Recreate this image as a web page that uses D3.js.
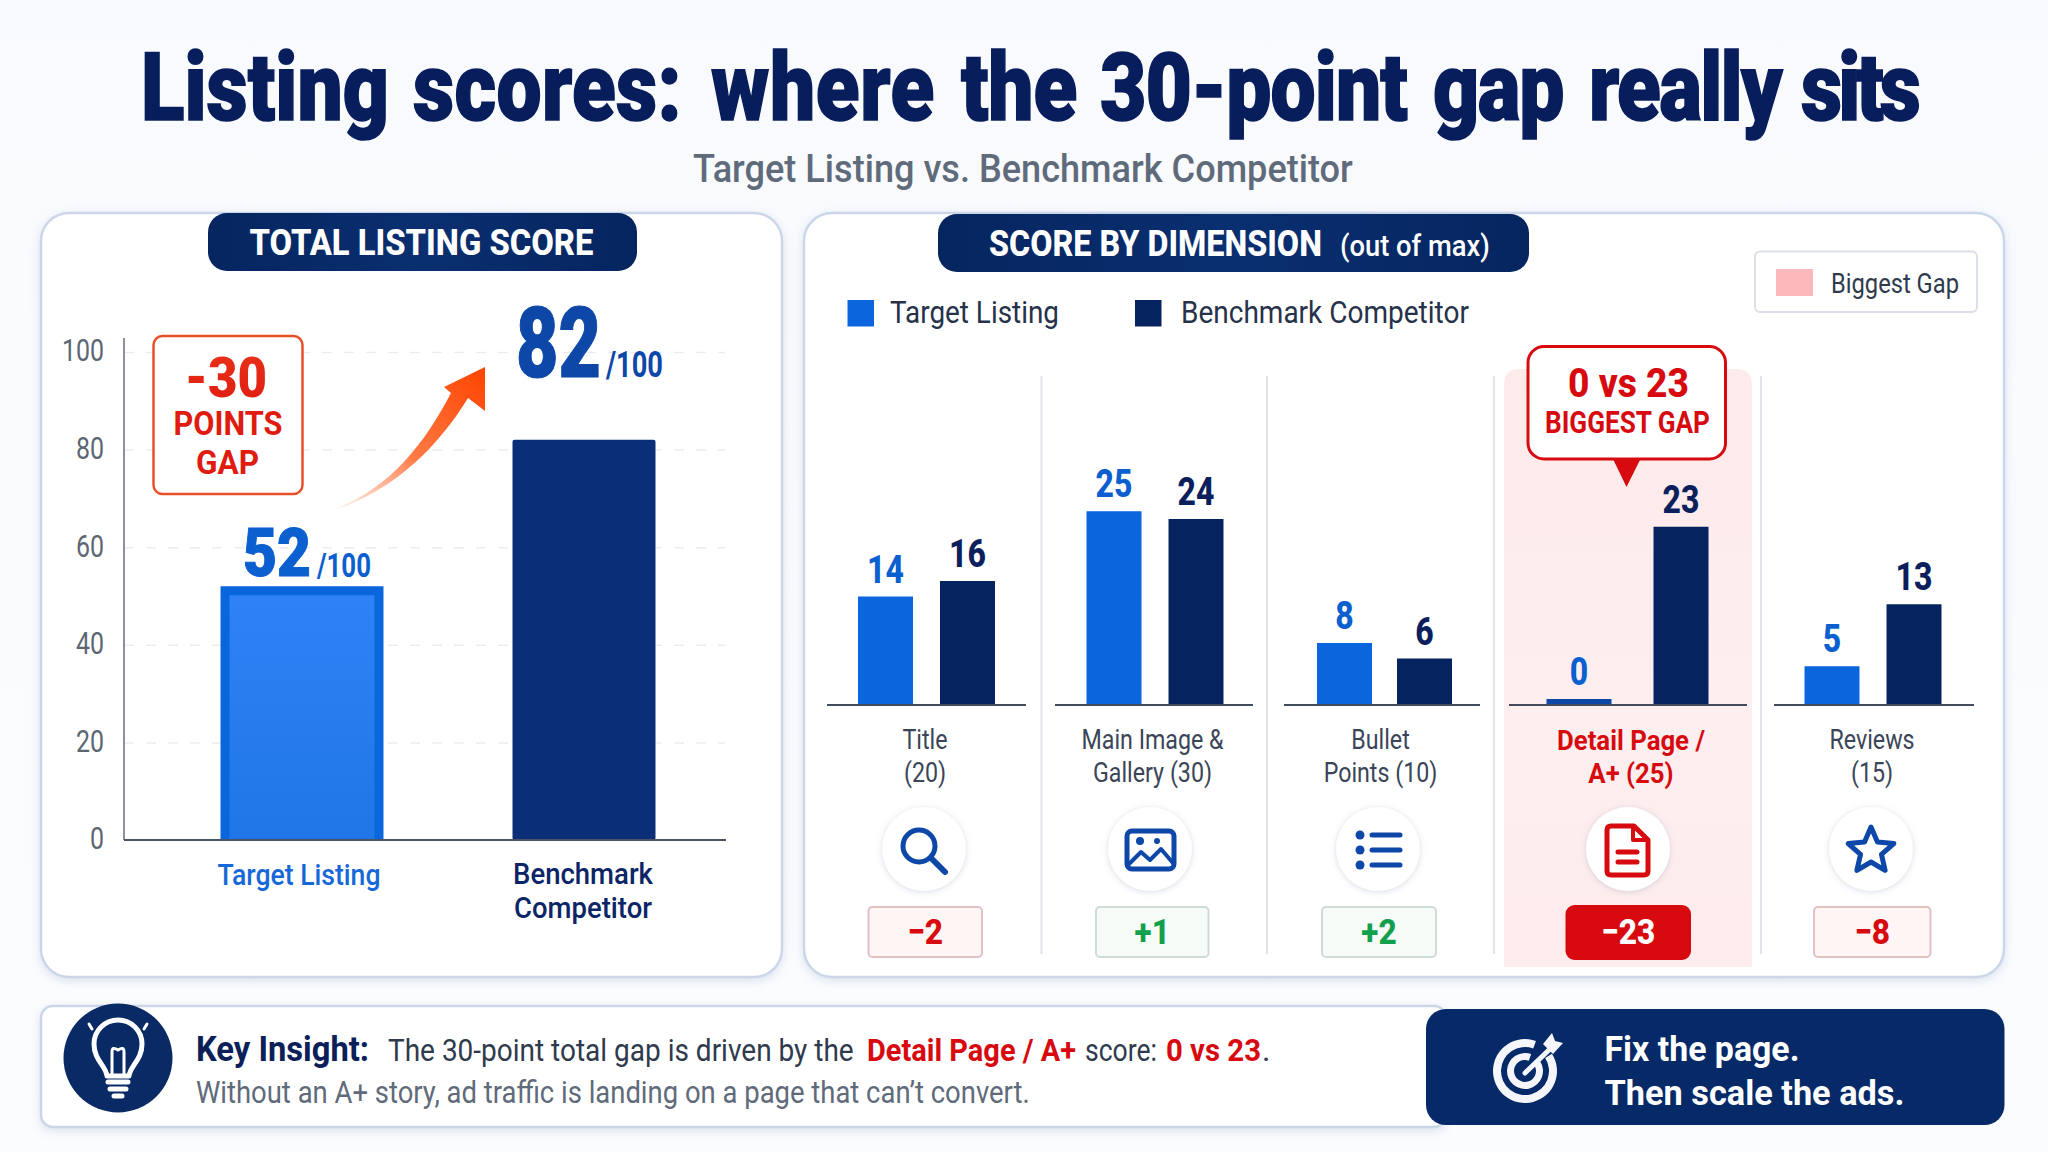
<!DOCTYPE html>
<html>
<head>
<meta charset="utf-8">
<script src="https://cdnjs.cloudflare.com/ajax/libs/d3/7.9.0/d3.min.js"></script>
<style>
  html, body { margin: 0; padding: 0; background: #f9fbfd; }
  svg { display: block; }
  text { font-family: Roboto, "Liberation Sans", sans-serif; }
</style>
</head>
<body>
<svg id="chart" width="2048" height="1152"></svg>
<script>
// Overall scores
const totalNames = ["Target Listing", "Benchmark Competitor"];
const totalScores = [52, 82];
const totalTicks = [0, 20, 40, 60, 80, 100];

// Scores per dimension
const dimensions = ["Title", "Main Image & Gallery", "Bullet Points", "Detail Page / A+", "Reviews"];
const dimensionLines = [["Title", "(20)"], ["Main Image &", "Gallery (30)"], ["Bullet", "Points (10)"], ["Detail Page /", "A+ (25)"], ["Reviews", "(15)"]];
const targetScores = [14, 25, 8, 0, 5];
const benchmarkScores = [16, 24, 6, 23, 13];
const seriesNames = ["Target Listing", "Benchmark Competitor"];
const highlighted = "Detail Page / A+";

const NAVY = "#062a68", DEEP = "#05245f", INK = "#0b2058", BLUE = "#0b66de", ICON = "#0d47a8",
      RED = "#d60a0f", GREEN = "#12a04e", GREY = "#5f6b7a", BODY = "#2f3a4d", BORDER = "#cbd7e9";

const svg = d3.select("#chart");
const defs = svg.append("defs");

function shadow(id, dy, blur, color, opacity) {
  defs.append("filter").attr("id", id).attr("x", "-20%").attr("y", "-20%").attr("width", "140%").attr("height", "140%")
    .append("feDropShadow").attr("dx", 0).attr("dy", dy).attr("stdDeviation", blur)
    .attr("flood-color", color).attr("flood-opacity", opacity);
}
shadow("panelShadow", 3, 5, "#9fb3d1", 0.35);
shadow("iconShadow", 1, 3, "#8c9ab5", 0.35);

function linear(id, x1, y1, x2, y2, stops, units) {
  const g = defs.append("linearGradient").attr("id", id)
    .attr("x1", x1).attr("y1", y1).attr("x2", x2).attr("y2", y2);
  if (units) g.attr("gradientUnits", units);
  stops.forEach(([o, c, a]) => g.append("stop").attr("offset", o).attr("stop-color", c).attr("stop-opacity", a ?? 1));
}
linear("pageBg", 0, 0, 0, 1, [[0, "#f8fafd"], [1, "#fbfcfe"]]);
linear("targetFill", 0, 0, 0, 1, [[0, "#2f82f6"], [1, "#2076e6"]]);
linear("pillFill", 0, 0, 1, 0, [[0, "#05255f"], [0.5, "#0a2f70"], [1, "#05255f"]]);
linear("bandFill", 0, 0, 0, 1, [[0, "#fdeaeb"], [0.6, "#fdeeef"], [1, "#feecec"]]);
linear("arrowFill", "334", "510", "485", "367", [[0, "#ffb79c", 0.25], [0.45, "#ff7a45"], [1, "#ff4300"]], "userSpaceOnUse");
linear("gapFill", 0, 0, 0, 1, [[0, "#e8331a"], [1, "#e01b10"]]);

// Places a text and narrows it horizontally to the given width or ratio of its natural width.
function label(parent, s, o) {
  const t = parent.append("text").text(s)
    .attr("font-size", o.size).attr("font-weight", o.weight || 400)
    .attr("fill", o.fill || BODY).attr("text-anchor", o.anchor || "start");
  const natural = t.node().getComputedTextLength();
  const k = o.width ? o.width / natural : (o.squeeze || 1);
  t.attr("transform", `translate(${o.x},${o.y}) scale(${k},1)`);
  if (o.heavy) t.attr("stroke", o.fill).attr("stroke-width", o.heavy);
  return t;
}

svg.append("rect").attr("width", 2048).attr("height", 1152).attr("fill", "url(#pageBg)");

// Heading, one text with each word fitted to its own span
const headingWords = ["Listing", "scores:", "where", "the", "30-point", "gap", "really", "sits"];
const headingLeft = d3.scaleOrdinal().domain(headingWords).range([141, 413, 711, 961, 1100, 1433, 1589, 1801]);
const headingRight = d3.scaleOrdinal().domain(headingWords).range([389, 682, 935, 1077, 1407, 1563, 1781, 1917]);
const heading = svg.append("text").attr("font-size", 94).attr("font-weight", 900)
  .attr("fill", "#071d5c").attr("stroke", "#071d5c").attr("stroke-width", 1.6);
const wordWidths = headingWords.map(w => {
  const probe = heading.append("tspan").text(w);
  const len = probe.node().getComputedTextLength();
  probe.remove();
  return len;
});
const headingK = d3.sum(headingWords, w => headingRight(w) - headingLeft(w)) / d3.sum(wordWidths) * 1.02;
heading.attr("transform", `translate(0,120) scale(${headingK},1)`);
headingWords.forEach((w, i) => {
  const room = (headingRight(w) - headingLeft(w)) / headingK;
  heading.append("tspan").attr("x", headingLeft(w) / headingK)
    .attr("letter-spacing", (room - wordWidths[i]) / w.length)
    .text(i < headingWords.length - 1 ? w + " " : w);
});
label(svg, "Target Listing vs. Benchmark Competitor", { x: 693, y: 182, size: 38, weight: 500, fill: GREY, width: 660 });

function panel(x, y, w, h) {
  svg.append("rect").attr("x", x).attr("y", y).attr("width", w).attr("height", h).attr("rx", 28)
    .attr("fill", "#fff").attr("stroke", BORDER).attr("stroke-width", 2.5).attr("filter", "url(#panelShadow)");
}
function pill(x, y, w, h) {
  svg.append("rect").attr("x", x).attr("y", y).attr("width", w).attr("height", h).attr("rx", 19).attr("fill", "url(#pillFill)");
}

/* ---------- Total score panel ---------- */
panel(41, 213, 741, 764);
pill(208, 213, 429, 58);
label(svg, "TOTAL LISTING SCORE", { x: 249.5, y: 255, size: 36, weight: 800, fill: "#fff", width: 344 });

const yTotal = d3.scaleLinear().domain([0, 100]).range([840, 352]);
const xTotal = d3.scaleOrdinal().domain(totalNames).range([302, 584]);
const wTotal = d3.scaleOrdinal().domain(totalNames).range([163, 143]);

svg.append("g").attr("transform", "translate(124,0)")
  .call(d3.axisLeft(yTotal).tickValues(totalTicks.slice(1)).tickSize(-601).tickFormat(""))
  .call(g => g.select(".domain").remove())
  .call(g => g.selectAll("line").attr("stroke", "#e9edf2").attr("stroke-width", 1.5).attr("stroke-dasharray", "10 12"));

const tickSqueeze = 0.78;
const yAxis = svg.append("g").attr("transform", "translate(124,0)")
  .call(d3.axisLeft(yTotal).tickValues(totalTicks).tickSize(0).tickPadding(20))
  .call(g => g.select(".domain").remove());
yAxis.selectAll("text")
  .attr("font-size", 32).attr("fill", "#5d6673").attr("dy", "0.28em")
  .style("font-family", "Roboto, sans-serif")
  .attr("x", -20 / tickSqueeze)
  .attr("transform", `scale(${tickSqueeze},1)`);
svg.append("line").attr("x1", 124).attr("x2", 124).attr("y1", 338).attr("y2", 840).attr("stroke", "#8a93a0").attr("stroke-width", 2);

totalNames.forEach((name, i) => {
  const v = totalScores[i], w = wTotal(name), x = xTotal(name) - w / 2, top = yTotal(v), h = yTotal(0) - top;
  if (i === 0) {
    svg.append("rect").attr("x", x).attr("y", top).attr("width", w).attr("height", h).attr("fill", "#0a66dc");
    svg.append("rect").attr("x", x + 9).attr("y", top + 9).attr("width", w - 18).attr("height", h - 9).attr("fill", "url(#targetFill)");
  } else {
    svg.append("rect").attr("x", x).attr("y", top).attr("width", w).attr("height", h).attr("rx", 2).attr("fill", "#0a2f78");
  }
});
svg.append("line").attr("x1", 124).attr("x2", 726).attr("y1", 840).attr("y2", 840).attr("stroke", "#4a5363").attr("stroke-width", 2);

// Value read-outs above the two bars
label(svg, totalScores[0], { x: 243, y: yTotal(totalScores[0]) - 10, size: 67, weight: 900, fill: "#0b5fcf", width: 68, heavy: 1 });
label(svg, "/100", { x: 317, y: yTotal(totalScores[0]) - 9, size: 34, weight: 700, fill: "#0b5fcf", width: 54 });
label(svg, totalScores[1], { x: 516, y: yTotal(totalScores[1]) - 63, size: 99, weight: 900, fill: ICON, width: 85, heavy: 1.2 });
label(svg, "/100", { x: 606, y: yTotal(totalScores[1]) - 63, size: 36, weight: 700, fill: ICON, width: 57 });

label(svg, "Target Listing", { x: 299, y: 885, size: 30, weight: 500, fill: "#1668d8", anchor: "middle", width: 163 });
label(svg, "Benchmark", { x: 583, y: 884, size: 30, weight: 500, fill: "#0b2566", anchor: "middle", width: 140 });
label(svg, "Competitor", { x: 583, y: 918, size: 30, weight: 500, fill: "#0b2566", anchor: "middle", width: 138 });

// Gap call-out and rising arrow
svg.append("rect").attr("x", 153.5).attr("y", 336).attr("width", 149).attr("height", 158).attr("rx", 9)
  .attr("fill", "#fff").attr("stroke", "#e8502a").attr("stroke-width", 2.5);
label(svg, "-30", { x: 226, y: 396.5, size: 55, weight: 900, fill: "url(#gapFill)", anchor: "middle", width: 82 });
label(svg, "POINTS", { x: 228, y: 434.5, size: 34, weight: 700, fill: "#e01b10", anchor: "middle", width: 109 });
label(svg, "GAP", { x: 227.5, y: 474, size: 34, weight: 700, fill: "#e01b10", anchor: "middle", width: 63 });
svg.append("path")
  .attr("d", "M334,510 C392,486 424,444 451,393 L444,387 L485,367 L485,411 L468,398 C440,444 396,490 334,510 Z")
  .attr("fill", "url(#arrowFill)");

/* ---------- Dimension panel ---------- */
panel(804, 213, 1200, 764);
pill(938, 214, 591, 58);
label(svg, "SCORE BY DIMENSION", { x: 989, y: 256, size: 36, weight: 800, fill: "#fff", width: 333 });
label(svg, "(out of max)", { x: 1340, y: 256, size: 30, weight: 500, fill: "#fff", width: 150 });

// Series legend
const legendX = d3.scaleOrdinal().domain(seriesNames).range([847.5, 1135]);
const legendColor = d3.scaleOrdinal().domain(seriesNames).range([BLUE, DEEP]);
const legendWidth = d3.scaleOrdinal().domain(seriesNames).range([169, 288]);
seriesNames.forEach(n => {
  svg.append("rect").attr("x", legendX(n)).attr("y", 300).attr("width", 26.5).attr("height", 26.5).attr("fill", legendColor(n));
  label(svg, n, { x: legendX(n) + (n === seriesNames[0] ? 42.5 : 46), y: 323, size: 31, fill: "#26324a", width: legendWidth(n) });
});

// Highlight legend
svg.append("rect").attr("x", 1755).attr("y", 251.5).attr("width", 222).attr("height", 60.5).attr("rx", 5)
  .attr("fill", "#fff").attr("stroke", "#dbe0e8").attr("stroke-width", 2);
svg.append("rect").attr("x", 1776).attr("y", 269).attr("width", 37).attr("height", 27).attr("fill", "#fdb8bb");
label(svg, "Biggest Gap", { x: 1831, y: 293, size: 27, fill: "#2f3a4d", width: 128 });

const BAR_W = 55;
const xGroup = d3.scaleOrdinal().domain(dimensions).range([926.5, 1155, 1384.5, 1630, 1873]);
const pairSpread = d3.scaleOrdinal().domain(dimensions).range([41, 41, 40, 51, 41]);
const xSeries = d => d3.scalePoint().domain(seriesNames).range([-pairSpread(d), pairSpread(d)]);
const yDim = d3.scaleLinear().domain([0, 30]).range([705, 472.5]);
const baseLeft = d3.scaleOrdinal().domain(dimensions).range([827, 1055, 1284, 1509, 1774]);
const baseRight = d3.scaleOrdinal().domain(dimensions).range([1026, 1253, 1480, 1747, 1974]);
const labelX = d3.scaleOrdinal().domain(dimensions).range([925, 1152.5, 1380.5, 1631, 1872]);
const iconX = d3.scaleOrdinal().domain(dimensions).range([924, 1150, 1378, 1628, 1871]);
const badgeBox = d3.scaleOrdinal().domain(dimensions).range([[868.5, 113.5], [1096, 112.5], [1322, 114], [1566.5, 123.5], [1814, 116.5]]);

// Tinted band behind the weakest dimension
svg.append("path").attr("d", "M1504,967 V385 Q1504,369 1520,369 H1736 Q1752,369 1752,385 V967 Z").attr("fill", "url(#bandFill)");

// Column separators
[1041.5, 1267, 1494, 1761].forEach(x => {
  svg.append("line").attr("x1", x).attr("x2", x).attr("y1", 376).attr("y2", 954).attr("stroke", "#e0e4ea").attr("stroke-width", 2);
});

const rows = dimensions.map((d, i) => ({ d, lines: dimensionLines[i], t: targetScores[i], b: benchmarkScores[i] }));
const fmtDelta = d3.format("+d");

function drawIcon(g, name, cx, cy) {
  const col = name === highlighted ? RED : ICON;
  const s = g.append("g").attr("transform", `translate(${cx},${cy})`).attr("fill", "none")
    .attr("stroke", col).attr("stroke-width", 5).attr("stroke-linecap", "round").attr("stroke-linejoin", "round");
  if (name === "Title") {
    s.append("circle").attr("cx", -5).attr("cy", -4).attr("r", 16);
    s.append("line").attr("x1", 7).attr("y1", 8).attr("x2", 21).attr("y2", 22).attr("stroke-width", 6);
  } else if (name === "Main Image & Gallery") {
    s.append("rect").attr("x", -23).attr("y", -19).attr("width", 47).attr("height", 38).attr("rx", 5);
    s.append("path").attr("d", "M-21,14 L-9,2 L0,10 L11,-1 L23,13").attr("stroke-width", 4);
    s.append("circle").attr("cx", -10).attr("cy", -9).attr("r", 4).attr("fill", col).attr("stroke", "none");
    s.append("circle").attr("cx", 7).attr("cy", -9).attr("r", 3).attr("fill", col).attr("stroke", "none");
  } else if (name === "Bullet Points") {
    [-15, 0, 15].forEach(dy => {
      s.append("circle").attr("cx", -18).attr("cy", dy).attr("r", 4.5).attr("fill", col).attr("stroke", "none");
      s.append("line").attr("x1", -6).attr("x2", 22).attr("y1", dy).attr("y2", dy);
    });
  } else if (name === "Detail Page / A+") {
    s.append("path").attr("d", "M-17,-24 H6 L20,-10 V21 Q20,25 16,25 H-17 Q-21,25 -21,21 V-20 Q-21,-24 -17,-24 Z");
    s.append("path").attr("d", "M5,-24 V-10 H20").attr("stroke-width", 4);
    s.append("line").attr("x1", -10).attr("x2", 9).attr("y1", 2).attr("y2", 2);
    s.append("line").attr("x1", -10).attr("x2", 9).attr("y1", 12).attr("y2", 12);
  } else {
    const pts = d3.range(10).map(k => {
      const r = k % 2 ? 11 : 24, a = -Math.PI / 2 + k * Math.PI / 5;
      return [r * Math.cos(a), r * Math.sin(a) + 1];
    });
    s.append("path").attr("d", d3.line()(pts) + "Z");
  }
}

rows.forEach(r => {
  const hi = r.d === highlighted, cx = xGroup(r.d), xs = xSeries(r.d);
  // Bars, a zero score keeps a short stub on the axis
  [[seriesNames[0], r.t, BLUE], [seriesNames[1], r.b, DEEP]].forEach(([s, v, col]) => {
    const mid = cx + xs(s);
    if (v === 0) {
      svg.append("rect").attr("x", mid - 32.5).attr("y", yDim(0) - 6).attr("width", 65).attr("height", 6).attr("fill", ICON);
    } else {
      svg.append("rect").attr("x", mid - BAR_W / 2).attr("y", yDim(v)).attr("width", BAR_W).attr("height", yDim(0) - yDim(v)).attr("fill", col);
    }
    label(svg, v, {
      x: mid, y: (v === 0 ? yDim(0) - 20 : yDim(v) - 14), size: 39, weight: 800,
      fill: s === seriesNames[0] ? "#0b5fcf" : "#0a1f5c", anchor: "middle", squeeze: 0.82
    });
  });
  svg.append("line").attr("x1", baseLeft(r.d)).attr("x2", baseRight(r.d)).attr("y1", 705).attr("y2", 705)
    .attr("stroke", "#414b5c").attr("stroke-width", 2);

  // Category name and maximum
  r.lines.forEach((ln, i) => {
    label(svg, ln, {
      x: labelX(r.d), y: (hi ? 749.5 : 748.5) + i * (hi ? 33.5 : 33), size: 28, weight: hi ? 700 : 400,
      fill: hi ? RED : "#3a4557", anchor: "middle", squeeze: hi ? 0.92 : 0.83
    });
  });

  // Icon disc
  svg.append("circle").attr("cx", iconX(r.d)).attr("cy", 849).attr("r", 42).attr("fill", "#fff").attr("filter", "url(#iconShadow)");
  drawIcon(svg, r.d, iconX(r.d), 850);

  // Difference badge
  const delta = r.t - r.b, [bx, bw] = badgeBox(r.d);
  svg.append("rect").attr("x", bx).attr("y", hi ? 906 : 907).attr("width", bw).attr("height", hi ? 53 : 50).attr("rx", hi ? 8 : 4)
    .attr("fill", hi ? RED : (delta < 0 ? "#fef5f5" : "#f7fbf8"))
    .attr("stroke", hi ? RED : (delta < 0 ? "#e2c0c3" : "#cfdcd5")).attr("stroke-width", 2);
  label(svg, fmtDelta(delta), {
    x: bx + bw / 2, y: 943.5, size: 36, weight: 800, fill: hi ? "#fff" : (delta < 0 ? RED : GREEN),
    anchor: "middle", squeeze: 0.88
  });
});

// Call-out above the highlighted column
svg.append("path").attr("d", "M1612.5,458 L1641,458 L1626.5,487 Z").attr("fill", RED);
svg.append("rect").attr("x", 1528).attr("y", 346.5).attr("width", 197.5).attr("height", 112.5).attr("rx", 16)
  .attr("fill", "#fff").attr("stroke", RED).attr("stroke-width", 3);
label(svg, "0 vs 23", { x: 1628.5, y: 396.5, size: 41, weight: 800, fill: RED, anchor: "middle", width: 121 });
label(svg, "BIGGEST GAP", { x: 1627.5, y: 432.5, size: 31, weight: 700, fill: RED, anchor: "middle", width: 165 });

/* ---------- Insight strip ---------- */
svg.append("rect").attr("x", 41).attr("y", 1006).attr("width", 1405).attr("height", 121).attr("rx", 12)
  .attr("fill", "#fff").attr("stroke", BORDER).attr("stroke-width", 2.5).attr("filter", "url(#panelShadow)");

// Light-bulb badge
svg.append("circle").attr("cx", 118).attr("cy", 1058).attr("r", 54.5).attr("fill", "#0a2a66");
const bulb = svg.append("g").attr("fill", "none").attr("stroke", "#fff").attr("stroke-width", 5).attr("stroke-linecap", "round").attr("stroke-linejoin", "round");
bulb.append("path").attr("d", "M107,1076 C106,1066 94,1060 94,1044 A24,24 0 1 1 142,1044 C142,1060 130,1066 129,1076 Z");
bulb.append("path").attr("d", "M112,1074 L112,1052 M124,1074 L124,1052 M112,1052 Q112,1046 118,1050 Q124,1046 124,1052").attr("stroke-width", 3);
bulb.append("path").attr("d", "M108,1082 H128 M110,1089 H126 M114,1096 H122");
bulb.append("path").attr("d", "M89,1024 L92,1029 M147,1024 L144,1029").attr("stroke-width", 3);

label(svg, "Key Insight:", { x: 196, y: 1061, size: 35, weight: 700, fill: INK, width: 173 });
label(svg, "The 30-point total gap is driven by the", { x: 388, y: 1061, size: 32, fill: BODY, width: 466 });
label(svg, "Detail Page / A+", { x: 867, y: 1061, size: 32, weight: 700, fill: RED, width: 209 });
label(svg, "score:", { x: 1085, y: 1061, size: 32, fill: BODY, width: 72 });
label(svg, "0 vs 23", { x: 1166, y: 1061, size: 32, weight: 700, fill: RED, width: 95 });
label(svg, ".", { x: 1262, y: 1061, size: 32, fill: BODY });
label(svg, "Without an A+ story, ad traffic is landing on a page that can’t convert.", { x: 196, y: 1103, size: 31, fill: GREY, width: 834 });

// Action card with a target-and-dart glyph
svg.append("rect").attr("x", 1426).attr("y", 1009).attr("width", 578.5).attr("height", 116).attr("rx", 20).attr("fill", NAVY);
const ring = d3.arc();
const goal = svg.append("g").attr("transform", "translate(1525,1071)").attr("fill", "#f4f6fb");
goal.append("path").attr("d", ring({ innerRadius: 24, outerRadius: 32, startAngle: 1.0, endAngle: 2 * Math.PI + 0.35 }));
goal.append("path").attr("d", ring({ innerRadius: 11, outerRadius: 18, startAngle: 1.0, endAngle: 2 * Math.PI + 0.35 }));
goal.append("line").attr("x1", 0).attr("y1", 2).attr("x2", 27).attr("y2", -24)
  .attr("stroke", "#f4f6fb").attr("stroke-width", 5).attr("stroke-linecap", "round");
goal.append("path").attr("d", "M18,-27 L27,-38 L30,-30 L38,-28 L28,-17 Z");
label(svg, "Fix the page.", { x: 1604.5, y: 1061, size: 35, weight: 700, fill: "#fff", width: 195 });
label(svg, "Then scale the ads.", { x: 1604.5, y: 1105, size: 35, weight: 700, fill: "#fff", width: 300 });
</script>
</body>
</html>
